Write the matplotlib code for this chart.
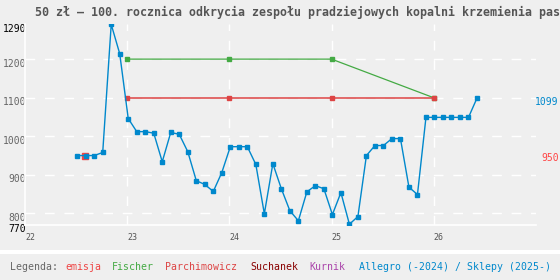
import numpy as np
import matplotlib
matplotlib.use('Agg')
import matplotlib.pyplot as plt
from matplotlib.transforms import ScaledTranslation
from matplotlib.patches import Rectangle

plt.rcParams['font.family'] = ['DejaVu Sans Mono', 'DejaVu Sans']

title = "50 zł – 100. rocznica odkrycia zespołu pradziejowych kopalni krzemienia pas"

# Allegro (-2024) / Sklepy (2025-): monthly prices starting July 2022
start_year, start_month = 2022, 7
allegro = [950, 950, 950, 958, 1290, 1214, 1046, 1012, 1012, 1008, 934, 1010,
           1005, 960, 885, 875, 857, 906, 973, 973, 973, 927, 799, 929,
           864, 807, 781, 856, 872, 864, 797, 854, 772, 792, 950, 976,
           976, 994, 994, 868, 849, 1049, 1049, 1049, 1049, 1049, 1049, 1099]

# catalogue prices
cat_years = [23, 24, 25, 26]
fischer = [1200, 1200, 1200, 1100]
parchimowicz = [1100, 1100, 1100, 1100]

# issue price
emisja_x = [22 + 7 / 12]
emisja_y = [950]

yticks = [770, 800, 900, 1000, 1100, 1200, 1290]
xticks = [22, 23, 24, 25, 26]

legend_items = [("emisja", "#ee4444"), ("Fischer", "#44aa44"),
                ("Parchimowicz", "#dd4444"), ("Suchanek", "#880000"),
                ("Kurnik", "#aa44aa"), ("Allegro (-2024) / Sklepy (2025-)", "#0088cc")]
legend_px = [65, 111.7, 164.7, 250, 309.3, 359.3]

bg = '#efefef'
blue = '#0088cc'

x_allegro = [start_year - 2000 + (start_month - 1 + i + 0.1) / 12 for i in range(len(allegro))]

fig = plt.figure(figsize=(5.6, 2.8), dpi=100, facecolor=bg)
ax = fig.add_axes([25.3 / 560, 1 - 225 / 280, (535.7 - 25.3) / 560, (225 - 24.4) / 280])
ax.set_facecolor(bg)
ax.set_xlim(22, 27)
ax.set_ylim(770, 1290)

# dashed white grid
for v in yticks[1:-1]:
    ax.axhline(v, color='white', lw=1.0, dashes=(7, 7), zorder=1)
for v in xticks[1:]:
    ax.axvline(v, color='white', lw=1.0, dashes=(7, 7), zorder=1)

for s in ['top', 'right']:
    ax.spines[s].set_visible(False)
for s in ['left', 'bottom']:
    ax.spines[s].set_color('white')
    ax.spines[s].set_linewidth(1.2)

ax.plot(cat_years, fischer, color='#44aa44', lw=0.9, marker='s', ms=2.6, zorder=3)
ax.plot(cat_years, parchimowicz, color='#dd4444', lw=1.1, marker='s', ms=2.6, zorder=4)
ax.plot(emisja_x, emisja_y, color='#ee4444', marker='s', ms=4.8, ls='none', zorder=5)
ax.plot(x_allegro, allegro, color=blue, lw=1.0, marker='s', ms=2.6, zorder=6)

ax.set_yticks(yticks)
ax.set_yticklabels([str(v) for v in yticks], fontsize=7)
ax.tick_params(axis='y', length=0, pad=-0.7)
for lbl, v in zip(ax.get_yticklabels(), yticks):
    lbl.set_color('black' if v in (770, 1290) else '#666666')
    lbl.set_transform(lbl.get_transform() + ScaledTranslation(0, -0.035, fig.dpi_scale_trans))

ax.set_xticks(xticks)
ax.set_xticklabels([str(v) for v in xticks], fontsize=6, color='#555555', ha='left')
ax.tick_params(axis='x', length=0, pad=6)

# values on the right
ax.text(558.7 / 560, 1 - 102.3 / 280, str(allegro[-1]), transform=fig.transFigure,
        ha='right', va='center', fontsize=7, color=blue)
ax.text(558.7 / 560, 1 - 158.3 / 280, str(emisja_y[0]), transform=fig.transFigure,
        ha='right', va='center', fontsize=7, color='#ff4444')

fig.text(35 / 560, 1 - 12 / 280, title, ha='left', va='center', fontsize=8.4,
         fontweight='bold', color='#555555')

# separator and legend
fig.patches.append(Rectangle((0, 1 - 254 / 280), 1, 4 / 280, transform=fig.transFigure,
                             facecolor='white', edgecolor='none'))
fig.text(10 / 560, 1 - 267 / 280, "Legenda:", ha='left', va='center', fontsize=7.1, color='#666666')
for (name, col), px in zip(legend_items, legend_px):
    fig.text(px / 560, 1 - 267 / 280, name, ha='left', va='center', fontsize=7.1, color=col)

fig.savefig('out.png', dpi=100, facecolor=bg)
